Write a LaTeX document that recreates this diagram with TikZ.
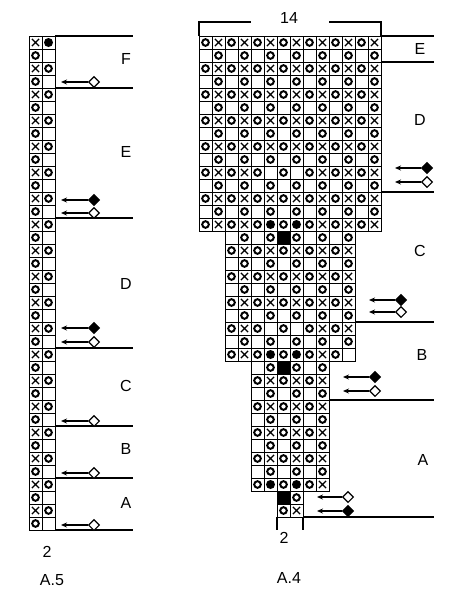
\documentclass[tikz,border=0pt]{standalone}
\usepackage{fontspec}
\setmainfont{Liberation Sans}
\usetikzlibrary{arrows.meta,shapes.geometric}
\tikzset{
 gridln/.style={line width=1pt},
 osym/.style={line width=2pt},
 xsym/.style={line width=1.3pt},
 secline/.style={line width=1.2pt},
 arr/.style={line width=1.1pt,-{Stealth[length=6pt,width=5pt]}},
 opendia/.style={diamond,draw,line width=1.1pt,fill=white,minimum width=11pt,minimum height=11pt,inner sep=0pt},
 filldia/.style={diamond,draw,fill=black,line width=1.1pt,minimum width=11pt,minimum height=11pt,inner sep=0pt},
 lbl/.style={font=\fontsize{16}{18}\selectfont,inner sep=0pt},
}
\newcommand\ksymo[2]{\draw[osym] (#1,#2) circle (3.3pt);}
\newcommand\ksymx[2]{\draw[xsym] (#1-3.6,#2-3.6) -- (#1+3.6,#2+3.6) (#1-3.6,#2+3.6) -- (#1+3.6,#2-3.6);}
\newcommand\ksyme[2]{}
\newcommand\ksymd[2]{\fill (#1,#2) circle (4.5pt);}
\newcommand\ksyms[2]{\fill (#1-6.5,#2-6.5) rectangle (#1+6.5,#2+6.5);}
\newcommand\kcell[3]{\csname ksym#3\endcsname{#1+6.5}{#2+6.5}\draw[gridln] (#1,#2) rectangle ++(13,13);}
\newcommand\krow[3]{\foreach \s [count=\i from 0] in {#3} {\kcell{#1+13*\i}{#2}{\s}}}
\newcommand\karrow[5]{\node[#2] (#1) at (#3,#5) {}; \coordinate (#1t) at (#4,#5); \draw[arr] (#1) -- (#1t);}
\begin{document}
\begin{tikzpicture}[x=1pt,y=-1pt]
\useasboundingbox (0,0) rectangle (458,600);
% ---------------- A.5 ----------------
\krow{29}{36}{x,d}
\foreach \yy in {62,88,...,504} {\krow{29}{\yy}{x,o}}
\foreach \yy in {49,75,...,517} {\krow{29}{\yy}{o,e}}
\foreach \yy in {36,88,218,348,426,478,530} {\draw[secline] (55,\yy) -- (133,\yy);}
\karrow{pf}{opendia}{94}{61}{82}
\karrow{pe1}{filldia}{94}{61}{200}
\karrow{pe2}{opendia}{94}{61}{213}
\karrow{pd1}{filldia}{94}{61}{328}
\karrow{pd2}{opendia}{94}{61}{342}
\karrow{pc}{opendia}{94}{61}{421}
\karrow{pb}{opendia}{94}{61}{473}
\karrow{pa}{opendia}{94}{61}{525}
\node[lbl] (lF5) at (126,59) {F};
\node[lbl] (lE5) at (126,152) {E};
\node[lbl] (lD5) at (126,284) {D};
\node[lbl] (lC5) at (126,386) {C};
\node[lbl] (lB5) at (126,449) {B};
\node[lbl] (lA5) at (126,503) {A};
\node[lbl] (n2a) at (47,552) {2};
\node[lbl] (na5) at (52,580) {A.5};
% ---------------- A.4 ----------------
\foreach \yy in {36,62,88,114,140,192} {\krow{199}{\yy}{o,x,o,x,o,x,o,x,o,x,o,x,o,x}}
\foreach \yy in {49,75,101,127,153,179,205} {\krow{199}{\yy}{e,o,e,o,e,o,e,o,e,o,e,o,e,o}}
\krow{199}{166}{o,x,o,x,o,e,o,e,o,x,o,x,o,x}
\krow{199}{218}{o,x,o,x,o,d,o,d,o,x,o,x,o,x}
\krow{225}{231}{e,o,e,o,s,o,e,o,e,o}
\foreach \yy in {244,270,296} {\krow{225}{\yy}{o,x,o,x,o,x,o,x,o,x}}
\foreach \yy in {257,283,309,335} {\krow{225}{\yy}{e,o,e,o,e,o,e,o,e,o}}
\krow{225}{322}{o,x,o,e,o,e,o,x,o,x}
\krow{225}{348}{o,x,o,d,o,d,o,x,o,e}
\krow{251}{361}{e,o,s,o,e,o}
\foreach \yy in {374,400,426,452} {\krow{251}{\yy}{o,x,o,x,o,x}}
\foreach \yy in {387,413,439,465} {\krow{251}{\yy}{e,o,e,o,e,o}}
\krow{251}{478}{o,d,o,d,o,x}
\krow{277}{491}{s,o}
\krow{277}{504}{o,x}
% bracket and width label
\draw[secline] (199,36) -- (199,22) -- (251,22);
\draw[secline] (329,22) -- (381,22) -- (381,36);
\node[lbl] (n14) at (289,18) {14};
% section lines
\draw[secline] (381,36) -- (434,36);
\draw[secline] (381,62) -- (434,62);
\draw[secline] (381,192) -- (434,192);
\draw[secline] (355,322) -- (434,322);
\draw[secline] (329,400) -- (434,400);
\draw[secline] (303,517) -- (434,517);
\draw[secline] (277,517) -- (277,530);
\draw[secline] (303,517) -- (303,530);
% arrows
\karrow{qd1}{filldia}{427}{395}{168}
\karrow{qd2}{opendia}{427}{395}{182}
\karrow{qc1}{filldia}{401}{369}{300}
\karrow{qc2}{opendia}{401}{369}{312}
\karrow{qb1}{filldia}{375}{343}{377}
\karrow{qb2}{opendia}{375}{343}{391}
\karrow{qa1}{opendia}{348}{317}{497}
\karrow{qa2}{filldia}{348}{317}{511}
\node[lbl] (lE4) at (420,49) {E};
\node[lbl] (lD4) at (420,120) {D};
\node[lbl] (lC4) at (420,251) {C};
\node[lbl] (lB4) at (422,355) {B};
\node[lbl] (lA4) at (423,460) {A};
\node[lbl] (n2b) at (284,538) {2};
\node[lbl] (na4) at (289,578) {A.4};
\end{tikzpicture}
\end{document}
